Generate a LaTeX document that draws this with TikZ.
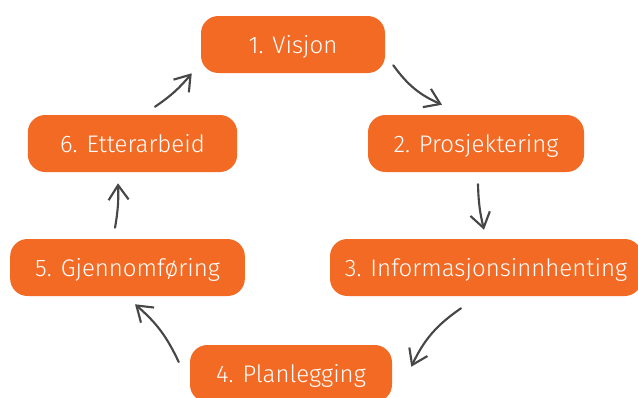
\documentclass[tikz,border=0pt]{standalone}
\usepackage{fontspec}
\setmainfont{Fira Sans Light}
\usepackage{xcolor}
\usetikzlibrary{arrows.meta}
\definecolor{phaseorange}{HTML}{F36A24}
\definecolor{arrowgray}{HTML}{474747}
\tikzset{
phase/.style={rectangle, rounded corners=13pt, fill=phaseorange, text=white,
  minimum height=42.75pt, inner sep=0pt, text height=15pt, text depth=1pt,
  font=\fontsize{18}{22}\selectfont}, % the orange boxes
flow/.style={draw=arrowgray, line width=1.6pt, line cap=round,
  -{Straight Barb[length=11pt,width=15pt,line width=1.6pt]}}, % the grey arrows
}

\begin{document}
\begin{tikzpicture}[x=0.75pt,y=-0.75pt]
        \useasboundingbox (0,0) rectangle (638,397);
        \node[phase, minimum width=138pt] (visjon) at (293,44.5) {1. Visjon};
        \node[phase, minimum width=162pt] (prosj) at (476,143.5) {2. Prosjektering};
        \node[phase, minimum width=234pt] (info) at (486,267.5) {3. Informasjonsinnhenting};
        \node[phase, minimum width=151.5pt] (plan) at (291,373.5) {4. Planlegging};
        \node[phase, minimum width=176pt] (gjen) at (127.5,267.5) {5. Gjennomføring};
        \node[phase, minimum width=157pt] (etter) at (132.5,143.5) {6. Etterarbeid};

        \draw[flow] ([shift={(8,-8)}]visjon.south east) to[bend right=15] ([shift={(-34,-10)}]prosj.north);
        \draw[flow] ([shift={(2,12)}]prosj.south) to[bend right=6] ([shift={(-2,-9)}]info.north);
        \draw[flow] ([shift={(-25,12)}]info.south) to[bend right=15] ([shift={(19,22)}]plan.north east);
        \draw[flow] ([shift={(-11,-11.5)}]plan.west) to[bend right=12] ([shift={(7.5,8)}]gjen.south);
        \draw[flow] ([shift={(-12.5,-11)}]gjen.north) to[bend right=6] ([shift={(-14.5,11)}]etter.south);
        \draw[flow] ([shift={(22.5,-8)}]etter.north) to[bend right=8] ([shift={(-9,0)}]visjon.south west);
\end{tikzpicture}
\end{document}
